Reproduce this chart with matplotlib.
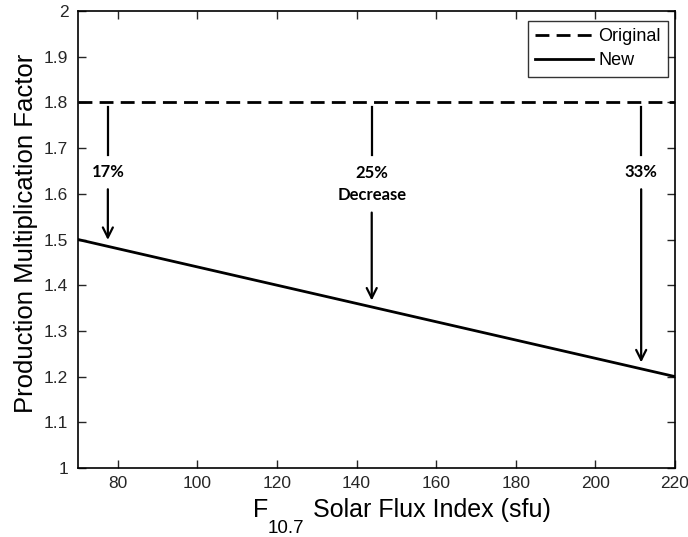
import matplotlib
matplotlib.use("Agg")
import matplotlib.pyplot as plt
import numpy as np

plt.rcParams["font.family"] = ["Liberation Sans", "DejaVu Sans"]

# data
flux = [70, 220]
original = [1.8, 1.8]
new = [1.5, 1.2]
arrow_x = [77.5, 143.8, 211.5]
arrow_labels = ["17%", "25%\nDecrease", "33%"]
xticks = np.arange(80, 221, 20)
yticks = np.round(np.arange(1.0, 2.01, 0.1), 1)

W, H = 688, 537


def new_at(x):
    return np.interp(x, flux, new)


def fx(px):
    return px / W


def fy(py):
    return 1 - py / H


fig = plt.figure(figsize=(W / 100, H / 100), dpi=100)
ax = fig.add_axes([fx(78), fy(468), (675 - 78) / W, (468 - 11) / H])

ax.plot(flux, original, "k--", lw=2.0, dashes=(5, 2.6), label="Original")
ax.plot(flux, new, "k-", lw=2.0, label="New")

ax.set_xlim(70, 220)
ax.set_ylim(1, 2)
ax.set_xticks(xticks)
ax.set_yticks(yticks)
ax.set_yticklabels([f"{v:g}" for v in yticks])
ax.tick_params(direction="in", top=True, right=True, length=6, width=1,
               labelsize=12.5, colors="#262626", pad=6)
ax.tick_params(axis="y", pad=7)
for sp in ax.spines.values():
    sp.set_linewidth(1.2)

# axis labels placed like the original
fig.text(fx(26), fy(233), "Production Multiplication Factor", rotation=90,
         ha="center", va="center", fontsize=18.5)
fig.text(fx(253), fy(517), "F", ha="left", va="baseline", fontsize=18)
fig.text(fx(268), fy(533), "10.7", ha="left", va="baseline", fontsize=13.5)
fig.text(fx(313), fy(517), "Solar Flux Index (sfu)", ha="left",
         va="baseline", fontsize=18)

# arrows with labels
for i, (xa, lab) in enumerate(zip(arrow_x, arrow_labels)):
    y_text = 1.648 if i != 1 else 1.622
    y_arrow_start = 1.616 if i != 1 else 1.565
    ax.plot([xa, xa], [1.79, 1.685], "k-", lw=1.6)
    ax.annotate("", xy=(xa, new_at(xa) + 0.008), xytext=(xa, y_arrow_start),
                arrowprops=dict(arrowstyle="->", lw=1.6, color="k",
                                mutation_scale=18))
    ax.text(xa, y_text, lab, ha="center", va="center", fontsize=12,
            fontweight="bold", family=["Lato", "DejaVu Sans"], linespacing=1.45)

leg = ax.legend(loc="upper right", bbox_to_anchor=(1 - 7 / 597, 1 - 10 / 457),
                borderaxespad=0, fontsize=13, frameon=True, fancybox=False,
                edgecolor="k", handlelength=3.2, labelspacing=0.4,
                handletextpad=0.3, borderpad=0.4)
leg.get_frame().set_linewidth(1.0)

fig.savefig("out.png", dpi=100)
